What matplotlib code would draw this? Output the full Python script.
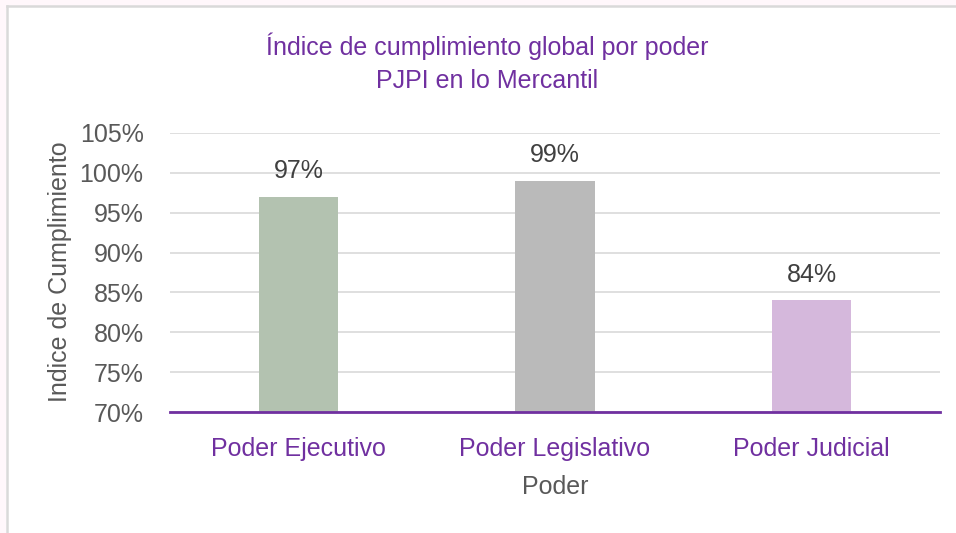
import matplotlib.pyplot as plt
from matplotlib.lines import Line2D
from matplotlib.patches import Rectangle
from matplotlib.ticker import PercentFormatter

plt.rcParams['font.family'] = ['Liberation Sans', 'DejaVu Sans']

categories = ["Poder Ejecutivo", "Poder Legislativo", "Poder Judicial"]
values = [97, 99, 84]
labels = ["97%", "99%", "84%"]
bar_colors = ["#B3C2B0", "#BABABA", "#D5B8DC"]

purple = "#7030A0"
gray_text = "#595959"

fig = plt.figure(figsize=(9.56, 5.33), dpi=100, facecolor="#FFF7FB")

# white chart area with gray top/left frame
fig.patches.append(Rectangle((6 / 956, 0), 1, 1 - 6 / 533, transform=fig.transFigure,
                             facecolor="white", edgecolor="none", zorder=-2))
fig.lines.append(Line2D([6.5 / 956, 1], [1 - 6 / 533] * 2, transform=fig.transFigure,
                        color="#D9D9D9", lw=1.8, zorder=-1))
fig.lines.append(Line2D([6.5 / 956] * 2, [0, 1 - 6 / 533], transform=fig.transFigure,
                        color="#D9D9D9", lw=1.8, zorder=-1))

ax = fig.add_axes([170 / 956, 1 - 412 / 533, 770 / 956, (412 - 133) / 533])
ax.set_facecolor("none")

x = range(len(categories))
bars = ax.bar(x, values, width=0.31, color=bar_colors, zorder=2)

ax.set_ylim(70, 105)
ax.set_xlim(-0.5, 2.5)
ax.set_yticks(range(70, 106, 5))
ax.yaxis.set_major_formatter(PercentFormatter(decimals=0))
ax.grid(axis="y", color="#D9D9D9", lw=1.2, zorder=0)

for s in ["top", "right", "left"]:
    ax.spines[s].set_visible(False)
ax.spines["bottom"].set_color(purple)
ax.spines["bottom"].set_linewidth(2)
ax.spines["bottom"].set_zorder(3)

ax.set_xticks(list(x))
ax.set_xticklabels(categories, color=purple, fontsize=18)
ax.tick_params(axis="x", length=0, pad=18)
ax.tick_params(axis="y", length=0, pad=19, labelsize=18, labelcolor=gray_text)

for b, lab in zip(bars, labels):
    ax.annotate(lab, (b.get_x() + b.get_width() / 2, b.get_height()),
                xytext=(0, 10), textcoords="offset points",
                ha="center", va="bottom", fontsize=18, color="#404040")

ax.set_xlabel("Poder", fontsize=18, color=gray_text, labelpad=10)
fig.text(60 / 956, 1 - 272 / 533, "Indice de Cumplimiento", rotation=90,
         ha="center", va="center", fontsize=18, color=gray_text)

fig.text(487 / 956, 1 - 63 / 533, "Índice de cumplimiento global por poder\nPJPI en lo Mercantil",
         ha="center", va="center", fontsize=18, color=purple, linespacing=1.45)

fig.savefig("out.png", dpi=100, facecolor=fig.get_facecolor())
